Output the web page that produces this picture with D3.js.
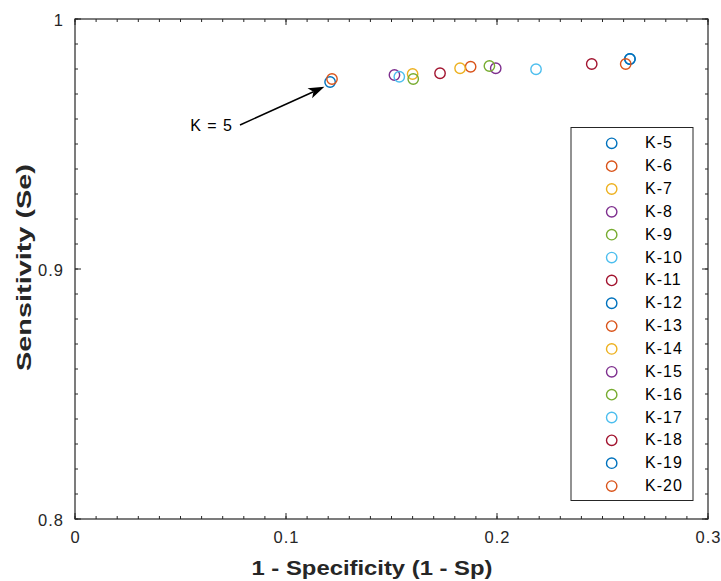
<!DOCTYPE html>
<html>
<head>
<meta charset="utf-8">
<script src="https://cdn.jsdelivr.net/npm/d3@7"></script>
<style>
  body { margin: 0; background: #fff; }
  text { font-family: "Liberation Sans", Arial, Helvetica, sans-serif; }
</style>
</head>
<body>
<div id="chart"></div>
<script>
// data
var kLabels = ["K-5", "K-6", "K-7", "K-8", "K-9", "K-10", "K-11", "K-12",
               "K-13", "K-14", "K-15", "K-16", "K-17", "K-18", "K-19", "K-20"];
var oneMinusSp = [0.1209, 0.1218, 0.1600, 0.1514, 0.1603, 0.1537, 0.1730, 0.2630,
                  0.1875, 0.1825, 0.1994, 0.1964, 0.2185, 0.2449, 0.2630, 0.2610];
var sensitivity = [0.9748, 0.9760, 0.9780, 0.9776, 0.9760, 0.9769, 0.9783, 0.9840,
                   0.9809, 0.9803, 0.9803, 0.9812, 0.9799, 0.9820, 0.9840, 0.9820];
var xTicks = [0, 0.1, 0.2, 0.3];
var yTicks = [0.8, 0.9, 1];
var xTickLabels = ["0", "0.1", "0.2", "0.3"];
var yTickLabels = ["0.8", "0.9", "1"];

// annotation arrow, in data units
var arrowTail = [0.0782, 0.9576];
var arrowHead = [0.1182, 0.9729];

// matlab default colour order
var colourOrder = ["#0072BD", "#D95319", "#EDB120", "#7E2F8E", "#77AC30", "#4DBEEE", "#A2142F"];

var margin = {top: 19, right: 13, bottom: 62, left: 75};
var width = 721 - margin.left - margin.right;
var height = 581 - margin.top - margin.bottom;

var svg = d3.select("#chart")
            .append("svg")
              .attr("width", 721)
              .attr("height", 581);

var chart = svg.append("g")
               .attr("transform", "translate(" + margin.left + "," + margin.top + ")");

var xScale = d3.scaleLinear().domain([0, 0.3]).range([0, width]);
var yScale = d3.scaleLinear().domain([0.8, 1]).range([height, 0]);

// minor ticks every 0.01
var xMinor = d3.range(0, 31).map(function(i) { return i / 100; });
var yMinor = d3.range(80, 101).map(function(i) { return i / 100; });

var tickColour = "#262626";

// ticks point inward on all four sides
function drawTicks(values, len) {
  values.x.forEach(function(v) {
    var px = xScale(v);
    chart.append("line").attr("x1", px).attr("x2", px).attr("y1", height).attr("y2", height - len)
         .attr("stroke", tickColour).attr("stroke-width", 1);
    chart.append("line").attr("x1", px).attr("x2", px).attr("y1", 0).attr("y2", len)
         .attr("stroke", tickColour).attr("stroke-width", 1);
  });
  values.y.forEach(function(v) {
    var py = yScale(v);
    chart.append("line").attr("x1", 0).attr("x2", len).attr("y1", py).attr("y2", py)
         .attr("stroke", tickColour).attr("stroke-width", 1);
    chart.append("line").attr("x1", width).attr("x2", width - len).attr("y1", py).attr("y2", py)
         .attr("stroke", tickColour).attr("stroke-width", 1);
  });
}
drawTicks({x: xMinor, y: yMinor}, 3);
drawTicks({x: xTicks, y: yTicks}, 6);

// box
chart.append("rect")
      .attr("x", 0)
      .attr("y", 0)
      .attr("width", width)
      .attr("height", height)
      .attr("fill", "none")
      .attr("stroke", tickColour)
      .attr("stroke-width", 1.2);

// tick labels
chart.selectAll(".x-label")
      .data(xTicks)
      .enter()
     .append("text")
      .attr("class", "x-label")
      .attr("x", function(d) { return xScale(d) + 0.5; })
      .attr("y", height + 24)
      .attr("text-anchor", "middle")
      .attr("fill", tickColour)
      .style("font-size", "16.5px")
      .style("letter-spacing", "1px")
      .text(function(d, i) { return xTickLabels[i]; });

chart.selectAll(".y-label")
      .data(yTicks)
      .enter()
     .append("text")
      .attr("class", "y-label")
      .attr("x", -11)
      .attr("y", function(d) { return yScale(d) + 6.5; })
      .attr("text-anchor", "end")
      .attr("fill", tickColour)
      .style("font-size", "16.5px")
      .style("letter-spacing", "1px")
      .text(function(d, i) { return yTickLabels[i]; });

// axis titles
svg.append("text")
    .attr("x", 372)
    .attr("y", 575)
    .attr("text-anchor", "middle")
    .attr("textLength", 241)
    .attr("lengthAdjust", "spacingAndGlyphs")
    .attr("fill", tickColour)
    .style("font-size", "20px")
    .style("font-weight", "bold")
    .text("1 - Specificity (1 - Sp)");

svg.append("text")
    .attr("transform", "translate(31,267.5) rotate(-90)")
    .attr("text-anchor", "middle")
    .attr("textLength", 207)
    .attr("lengthAdjust", "spacingAndGlyphs")
    .attr("fill", tickColour)
    .style("font-size", "20px")
    .style("font-weight", "bold")
    .text("Sensitivity (Se)");

// points
var points = kLabels.map(function(k, i) {
  return {k: k, x: oneMinusSp[i], y: sensitivity[i], colour: colourOrder[i % colourOrder.length]};
});

chart.selectAll("circle.pt")
      .data(points)
      .enter()
     .append("circle")
      .attr("class", "pt")
      .attr("cx", function(d) { return xScale(d.x); })
      .attr("cy", function(d) { return yScale(d.y); })
      .attr("r", 5.2)
      .attr("fill", "none")
      .attr("stroke", function(d) { return d.colour; })
      .attr("stroke-width", 1.4);

// arrow annotation
var tx = xScale(arrowTail[0]), ty = yScale(arrowTail[1]);
var hx = xScale(arrowHead[0]), hy = yScale(arrowHead[1]);
var ang = Math.atan2(hy - ty, hx - tx);
var headLen = 16, headHalf = 5.5;
var bx = hx - headLen * Math.cos(ang), by = hy - headLen * Math.sin(ang);

chart.append("line")
      .attr("x1", tx).attr("y1", ty)
      .attr("x2", bx + 4 * Math.cos(ang)).attr("y2", by + 4 * Math.sin(ang))
      .attr("stroke", "#000")
      .attr("stroke-width", 1.5);

chart.append("path")
      .attr("d", "M" + hx + "," + hy +
                 "L" + (bx - headHalf * Math.sin(ang)) + "," + (by + headHalf * Math.cos(ang)) +
                 "L" + (bx + 4 * Math.cos(ang)) + "," + (by + 4 * Math.sin(ang)) +
                 "L" + (bx + headHalf * Math.sin(ang)) + "," + (by - headHalf * Math.cos(ang)) + "Z")
      .attr("fill", "#000");

chart.append("text")
      .attr("x", tx - 7)
      .attr("y", ty + 6)
      .attr("text-anchor", "end")
      .style("font-size", "16px")
      .style("letter-spacing", "1px")
      .text("K = 5");

// legend
var legendX = 571, legendY = 127.5, legendW = 122, legendH = 373;
var rowStep = 22.85;

var legend = svg.append("g").attr("class", "legend");

legend.append("rect")
      .attr("x", legendX)
      .attr("y", legendY)
      .attr("width", legendW)
      .attr("height", legendH)
      .attr("fill", "#fff")
      .attr("stroke", tickColour)
      .attr("stroke-width", 1);

var legendGroups = legend.selectAll(".legend-group")
                          .data(points)
                          .enter()
                         .append("g")
                          .attr("class", "legend-group")
                          .attr("transform", function(d, i) {
                            return "translate(0," + (legendY + 15.8 + rowStep * i) + ")";
                          });

legendGroups.append("circle")
              .attr("cx", 611.7)
              .attr("cy", 0)
              .attr("r", 5.2)
              .attr("fill", "none")
              .attr("stroke", function(d) { return d.colour; })
              .attr("stroke-width", 1.4);

legendGroups.append("text")
              .attr("x", 645)
              .attr("y", 5)
              .style("font-size", "16px")
              .style("letter-spacing", "1px")
              .text(function(d) { return d.k; });
</script>
</body>
</html>
